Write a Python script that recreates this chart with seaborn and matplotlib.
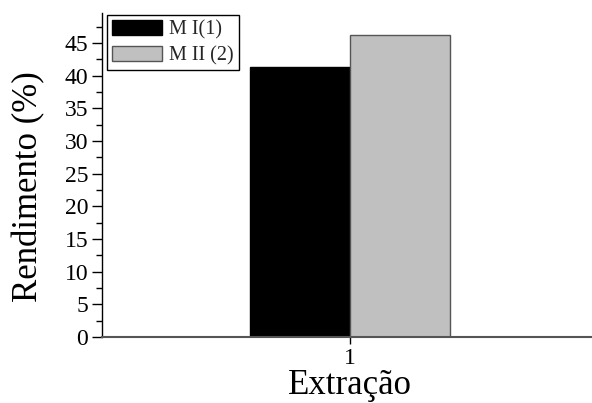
import pandas as pd
import matplotlib
matplotlib.use("Agg")
from matplotlib import pyplot
import matplotlib.ticker as ticker
import seaborn as sns

# data
extracao = ["1", "1"]
metodo = ["M I(1)", "M II (2)"]
rendimento = [41.4, 46.3]
cores = ["#000000", "#c0c0c0"]
bordas = ["#000000", "#555555"]

df = pd.DataFrame({"Extração": extracao, "Método": metodo, "Rendimento": rendimento})

sns.set_theme(style="ticks")
pyplot.rcParams["font.family"] = ["Liberation Serif", "DejaVu Serif"]

fig = pyplot.figure(figsize=(5.92, 4.03), dpi=100)
ax = fig.add_axes([102 / 592, (403 - 337) / 403, 496 / 592, (337 - 13) / 403])

plt = sns.barplot(data=df, x="Extração", y="Rendimento", hue="Método",
                  palette=cores, width=0.8, saturation=1, ax=ax)
for patch, ec in zip(ax.patches, bordas):
	patch.set_edgecolor(ec)
	patch.set_linewidth(1)

ax.set_xlim(-0.992, 0.992)
ax.set_ylim(0, 49.6)
ax.yaxis.set_major_locator(ticker.MultipleLocator(5))
ax.yaxis.set_minor_locator(ticker.MultipleLocator(2.5))

for s in ["top", "right"]:
	ax.spines[s].set_visible(False)
ax.spines["left"].set_color("black")
ax.spines["left"].set_linewidth(1)
ax.spines["bottom"].set_color("#555555")
ax.spines["bottom"].set_linewidth(1.5)

ax.tick_params(axis="y", which="major", length=7, width=1, color="black",
               labelsize=17, pad=3, labelcolor="black")
ax.tick_params(axis="y", which="minor", length=4, width=1, color="black")
ax.tick_params(axis="x", which="major", length=5, width=1, color="black",
               labelsize=17, pad=3, labelcolor="black")

ax.set_xlabel("Extração", fontsize=25, labelpad=0, color="black")
ax.set_ylabel("Rendimento (%)", fontsize=25, color="black")
ax.yaxis.set_label_coords(-0.115, 0.4645)

leg = ax.legend(loc="upper left", bbox_to_anchor=(0.01, 0.994), borderaxespad=0,
                fontsize=14.5, frameon=True, fancybox=False, edgecolor="black",
                handlelength=2.5, handleheight=0.8, labelspacing=0.3,
                handletextpad=0.35, borderpad=0.25, title=None)
leg.get_frame().set_linewidth(1)
leg.get_frame().set_alpha(1)
for h, ec in zip(leg.legend_handles, bordas):
	h.set_edgecolor(ec)
	h.set_linewidth(1)

pyplot.savefig("out.png", dpi=100)
